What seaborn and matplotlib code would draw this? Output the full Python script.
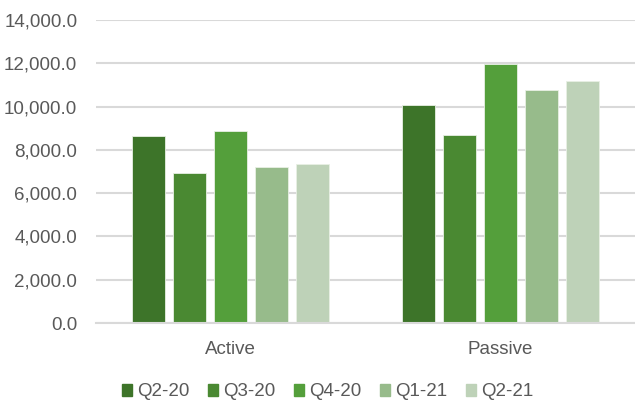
import matplotlib
matplotlib.use("Agg")
import matplotlib.pyplot as plt
import seaborn as sns
import pandas as pd

# dados
categorias = ["Active", "Passive"]
trimestres = ["Q2-20", "Q3-20", "Q4-20", "Q1-21", "Q2-21"]
active = [8640, 6915, 8870, 7220, 7330]
passive = [10055, 8700, 11965, 10775, 11190]
cores = ["#3D7429", "#4A8932", "#549F3B", "#97BB8B", "#BED2B8"]
yticks = [0, 2000, 4000, 6000, 8000, 10000, 12000, 14000]

df = pd.DataFrame({
    "Categoria": [c for c in categorias for _ in trimestres],
    "Trimestre": trimestres * len(categorias),
    "Valor": active + passive,
})

sns.set_theme(style="white")
plt.rcParams["font.family"] = ["Liberation Sans", "DejaVu Sans"]
texto = "#595959"
fs = 13.5

fig = plt.figure(figsize=(6.35, 4.07), dpi=100)
ax = fig.add_axes([96 / 635, 1 - 323 / 407, 1 - 96 / 635, (323 - 20) / 407])

sns.barplot(
    data=df, x="Categoria", y="Valor", hue="Trimestre",
    hue_order=trimestres, order=categorias, palette=cores,
    width=0.76, gap=0.2, saturation=1, ax=ax, legend=False,
    edgecolor="#E8F0E4", linewidth=0.6,
)

ax.set_ylim(0, 14000)
ax.set_yticks(yticks)
ax.set_yticklabels([f"{v:,.1f}" for v in yticks], color=texto, fontsize=fs)
ax.set_xticklabels(categorias, color=texto, fontsize=fs)
ax.set_xlabel("")
ax.set_ylabel("")
ax.tick_params(axis="both", length=0)
ax.tick_params(axis="y", pad=13.5)
ax.tick_params(axis="x", pad=13)
ax.set_axisbelow(True)
ax.grid(axis="y", color="#D9D9D9", linewidth=1.5)
for s in ["top", "right", "left"]:
    ax.spines[s].set_visible(False)
ax.spines["bottom"].set_color("#D9D9D9")
ax.spines["bottom"].set_linewidth(1.5)

handles = [plt.Rectangle((0, 0), 1, 1, color=c) for c in cores]
fig.legend(
    handles, trimestres, loc="center", bbox_to_anchor=(0.516, 1 - 392 / 407),
    ncol=5, frameon=False, fontsize=fs, labelcolor=texto,
    handlelength=0.55, handleheight=0.55, handletextpad=0.25, columnspacing=1.0,
)

fig.savefig("out.png", dpi=100, facecolor="white")
plt.close(fig)
